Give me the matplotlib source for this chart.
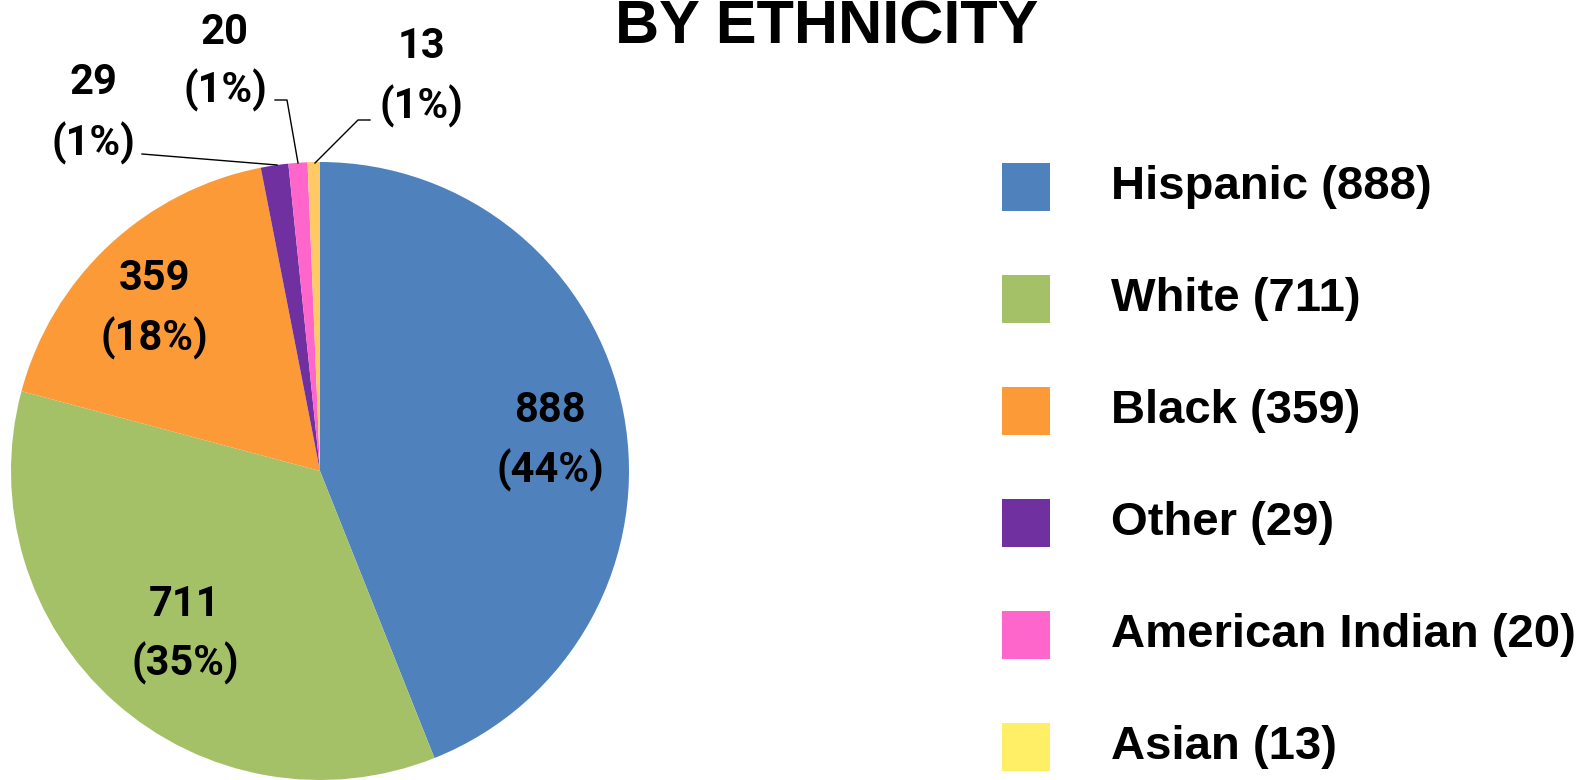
import matplotlib.pyplot as plt
from matplotlib.patches import Rectangle

# ==========================================
# DATA
# ==========================================

groups = ["Hispanic", "White", "Black", "Other", "American Indian", "Asian"]
counts = [888, 711, 359, 29, 20, 13]
pcts = ["44%", "35%", "18%", "1%", "1%", "1%"]

slice_colors = ["#4F81BD", "#A5C168", "#FD9A38", "#7030A0", "#FF66CC", "#FFC966"]
legend_colors = ["#4F81BD", "#A5C168", "#FD9A38", "#7030A0", "#FF66CC", "#FFEF66"]

# ==========================================
# FIGURE (pixel coordinates, y up)
# ==========================================

W, H = 1590, 780
fig = plt.figure(figsize=(W / 100, H / 100), dpi=100)
ax = fig.add_axes([0, 0, 1, 1])


def py(y):
    return H - y


# ==========================================
# PIE
# ==========================================

cx, cy, r = 320, py(471), 309

ax.pie(
    counts,
    colors=slice_colors,
    startangle=90,
    counterclock=False,
    center=(cx, cy),
    radius=r,
    frame=True,
    wedgeprops={"linewidth": 0},
)
ax.set_xlim(0, W)
ax.set_ylim(0, H)
ax.set_aspect("equal")
ax.axis("off")

# label positions (pixel), top line / bottom line
label_pos = [
    (550, 410, 470),
    (185, 604, 663),
    (154, 279, 338),
    (93, 83, 143),
    (225, 32, 90),
    (421, 47, 106),
]

lab_font = {"family": "Roboto", "weight": "bold", "size": 30}

for (x, y1, y2), n, p in zip(label_pos, counts, pcts):
    ax.text(x, py(y1), str(n), ha="center", va="center", fontdict=lab_font)
    ax.text(x, py(y2), f"({p})", ha="center", va="center", fontdict=lab_font)

# leader lines for the small slices
leaders = [
    [(142, 154), (277, 165)],
    [(275, 100), (287, 100), (298, 163)],
    [(370, 120), (358, 120), (315, 163)],
]
for pts in leaders:
    ax.plot([p[0] for p in pts], [py(p[1]) for p in pts],
            color="black", linewidth=1)

# ==========================================
# TITLE
# ==========================================

ax.text(827, py(43), "BY ETHNICITY", ha="center", va="baseline",
        family="Liberation Sans", weight="bold", size=44)

# ==========================================
# LEGEND
# ==========================================

for i, (g, n, c) in enumerate(zip(groups, counts, legend_colors)):
    yc = 187 + i * 112
    ax.add_patch(Rectangle((1002, py(yc + 24)), 48, 48,
                           facecolor=c, edgecolor="none"))
    ax.text(1111, py(yc), f"{g} ({n})", ha="left", va="center",
            family="Liberation Sans", weight="bold", size=34)

plt.savefig("out.png", dpi=100)
